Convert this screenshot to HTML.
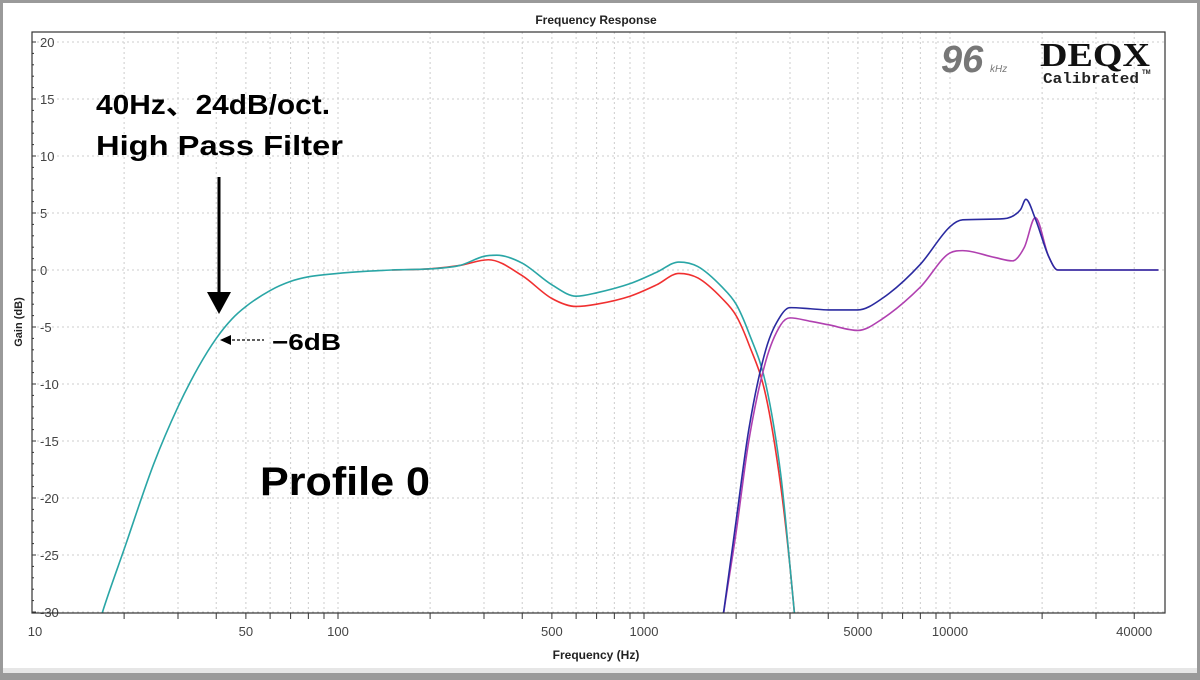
<!DOCTYPE html>
<html><head><meta charset="utf-8"><style>
body{margin:0;background:#fff;}
svg{display:block;font-family:"Liberation Sans","Noto Sans CJK JP",sans-serif;}
</style></head><body>
<svg id="chart" width="1200" height="680" viewBox="0 0 1200 680">
<rect x="0" y="0" width="1200" height="680" fill="#9a9a9a"/>
<rect x="3" y="3" width="1194" height="670" fill="#fff"/>
<rect x="3" y="668" width="1194" height="5" fill="#e6e6e6"/>
<text x="596" y="24" font-size="12" font-weight="bold" text-anchor="middle" fill="#222">Frequency Response</text>
<g id="grid"></g>
<g id="axes"></g>
<g id="series" clip-path="url(#clip)"></g>
<defs><clipPath id="clip"><rect x="32" y="32" width="1133" height="581"/></clipPath></defs>
<rect x="32" y="32" width="1133" height="581" fill="none" stroke="#333" stroke-width="1.2"/>
<text x="596" y="659" font-size="12" font-weight="bold" text-anchor="middle" fill="#222">Frequency (Hz)</text>
<text x="0" y="0" font-size="11" font-weight="bold" text-anchor="middle" fill="#222" transform="translate(22,322) rotate(-90)">Gain (dB)</text>
<g>
<text x="941" y="72" font-size="38" font-weight="bold" font-style="italic" fill="#777">96</text>
<text x="990" y="72" font-size="10" font-style="italic" fill="#777">kHz</text>
<text x="1040" y="66" font-size="34" font-weight="bold" font-family="Liberation Serif,serif" fill="#111" textLength="110" lengthAdjust="spacingAndGlyphs">DEQX</text>
<text x="1043" y="83" font-size="15" font-weight="bold" font-family="Liberation Mono,monospace" fill="#222" textLength="96" lengthAdjust="spacingAndGlyphs">Calibrated</text>
<text x="1142" y="74" font-size="6" font-weight="bold" fill="#222">TM</text>
</g>
<text x="96" y="114" font-size="28" font-weight="bold" fill="#000" textLength="234" lengthAdjust="spacingAndGlyphs">40Hz、24dB/oct.</text>
<text x="96" y="155" font-size="28" font-weight="bold" fill="#000" textLength="247" lengthAdjust="spacingAndGlyphs">High Pass Filter</text>
<line x1="219" y1="177" x2="219" y2="295" stroke="#000" stroke-width="3"/>
<polygon points="207,292 231,292 219,314" fill="#000"/>
<line x1="232" y1="340" x2="264" y2="340" stroke="#000" stroke-width="1.2" stroke-dasharray="3,2"/>
<polygon points="220,340 231,335 231,345" fill="#000"/>
<text x="272" y="350" font-size="23" font-weight="bold" fill="#000" textLength="69" lengthAdjust="spacingAndGlyphs">−6dB</text>
<text x="260" y="495" font-size="40" font-weight="bold" fill="#000" textLength="170" lengthAdjust="spacingAndGlyphs">Profile 0</text>
</svg>
<script>
const xTicks=[10,50,100,500,1000,5000,10000,40000];
const yTicks=[20,15,10,5,0,-5,-10,-15,-20,-25,-30];
const tealF=[15,17,20,25,30,35,40,45,50,60,70,80,100,150,200,250,300,330,400,500,600,700,900,1100,1300,1500,1800,2000,2200,2500,2800,3000,3200];
const tealDb=[-35,-30,-24.5,-17,-12,-8.5,-6,-4.3,-3.2,-1.8,-1.0,-0.6,-0.3,0,0.1,0.4,1.2,1.3,0.6,-1.3,-2.3,-2.0,-1.2,-0.2,0.7,0.3,-1.5,-3,-5.5,-10,-18,-26,-34];
const redF=[150,200,250,310,400,500,600,700,900,1100,1300,1500,1800,2000,2200,2500,2800,3000,3200];
const redDb=[0,0.1,0.4,0.9,-0.5,-2.5,-3.2,-3.0,-2.3,-1.3,-0.3,-0.7,-2.5,-4,-6.5,-11,-19,-26,-34];
const blueF=[1700,1800,2000,2200,2500,2800,3000,3500,4000,5000,6000,8000,10000,11000,15000,17000,17700,19000,21000,22500,48000];
const blueDb=[-36,-31,-22,-14,-7,-4,-3.3,-3.4,-3.5,-3.5,-2.5,0.5,3.8,4.4,4.5,5.3,6.2,4.5,1.2,0,0];
const purpleF=[1700,1800,2000,2200,2500,2800,3000,3500,4000,5000,6000,8000,10000,11000,14000,16000,17500,19000,21000,22500,48000];
const purpleDb=[-36,-31,-23,-15,-8,-4.8,-4.2,-4.5,-4.8,-5.3,-4.3,-1.5,1.5,1.7,1.1,0.8,2,4.6,1.2,0,0];
const NS='http://www.w3.org/2000/svg';
const X=f=>32+(Math.log10(f)-1)*306;
const Y=d=>270-d*11.4;
function mk(t,a,p){const e=document.createElementNS(NS,t);for(const k in a)e.setAttribute(k,a[k]);p.appendChild(e);return e;}
const grid=document.getElementById('grid'),axes=document.getElementById('axes'),ser=document.getElementById('series');
const gridF=[20,30,40,50,60,70,80,90,100,200,300,400,500,600,700,800,900,1000,2000,3000,4000,5000,6000,7000,8000,9000,10000,20000,30000,40000];
gridF.forEach(f=>{const l=mk('line',{x1:X(f),x2:X(f),y1:32,y2:613,stroke:'#ccc','stroke-dasharray':'2,3'},grid);


mk('line',{x1:X(f),x2:X(f),y1:613,y2:619,stroke:'#333'},axes);});
yTicks.forEach(d=>{const l=mk('line',{x1:32,x2:1165,y1:Y(d),y2:Y(d),stroke:'#ccc','stroke-dasharray':'2,3'},grid);


const t=mk('text',{x:40,y:Y(d)+5,'font-size':13,fill:'#444'},axes);t.textContent=d;

});
for(let d=-30;d<=20;d++)mk('line',{x1:32,x2:d%5?34:36,y1:Y(d),y2:Y(d),stroke:'#333'},axes);
xTicks.forEach(f=>{const t=mk('text',{x:X(f)+(f==10?3:0),y:636,'font-size':13,fill:'#444','text-anchor':'middle'},axes);t.textContent=f;

});
function path(F,D,col,name){
const xs=F.map(X),ys=D.map(Y),n=xs.length;
const dl=[],m=[];
for(let i=0;i<n-1;i++)dl.push((ys[i+1]-ys[i])/(xs[i+1]-xs[i]));
m[0]=dl[0];m[n-1]=dl[n-2];
for(let i=1;i<n-1;i++){m[i]=(dl[i-1]*dl[i]<=0)?0:(dl[i-1]+dl[i])/2;}
for(let i=0;i<n-1;i++){if(dl[i]===0){m[i]=0;m[i+1]=0;continue;}const a=m[i]/dl[i],b=m[i+1]/dl[i],s=a*a+b*b;if(s>9){const t=3/Math.sqrt(s);m[i]=t*a*dl[i];m[i+1]=t*b*dl[i];}}
let s='M'+xs[0]+','+ys[0];
for(let i=0;i<n-1;i++){const h=(xs[i+1]-xs[i])/3;s+=' C'+(xs[i]+h)+','+(ys[i]+m[i]*h)+' '+(xs[i+1]-h)+','+(ys[i+1]-m[i+1]*h)+' '+xs[i+1]+','+ys[i+1];}
const e=mk('path',{d:s,fill:'none',stroke:col,'stroke-width':1.6},ser);

}
path(redF,redDb,'#f03030','woofer-red-line');
path(tealF,tealDb,'#2aa6a6','woofer-teal-line');
path(purpleF,purpleDb,'#b040b0','tweeter-purple-line');
path(blueF,blueDb,'#2a2aa0','tweeter-blue-line');
</script>
</body></html>
